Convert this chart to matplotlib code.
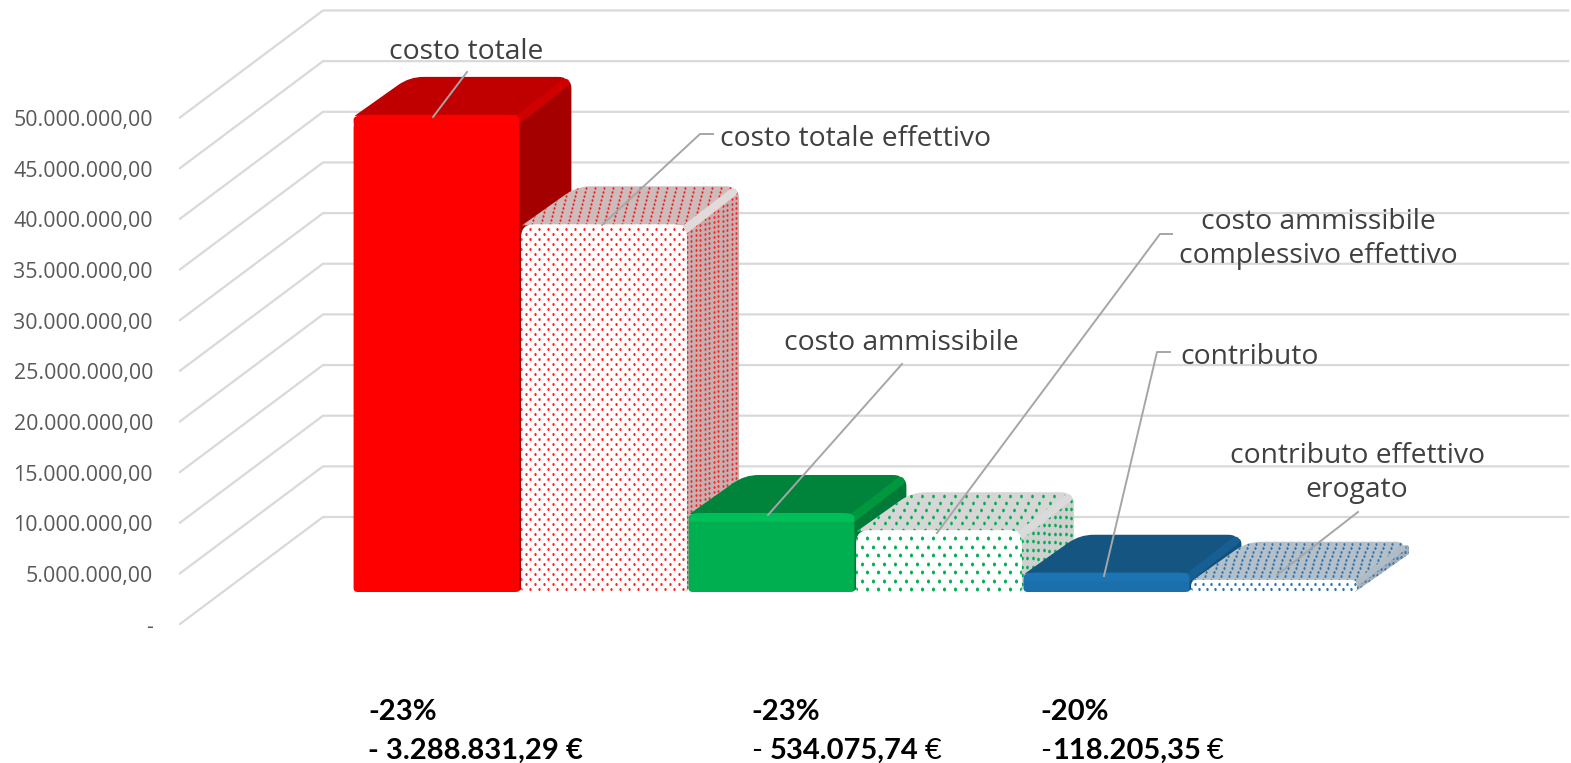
import numpy as np
import matplotlib
matplotlib.use("Agg")
import matplotlib.pyplot as plt
from matplotlib.patches import PathPatch
from matplotlib.path import Path
from matplotlib.transforms import Affine2D, IdentityTransform

W, H = 1571, 763

# dati
categories = ["costo totale", "costo totale effettivo", "costo ammissibile",
              "costo ammissibile\ncomplessivo effettivo", "contributo",
              "contributo effettivo\nerogato"]
values = [47100000, 36300000, 7800000, 6100000, 1900000, 1200000]
ticks = [0, 5000000, 10000000, 15000000, 20000000, 25000000,
         30000000, 35000000, 40000000, 45000000, 50000000]
tick_labels = ["-", "5.000.000,00", "10.000.000,00", "15.000.000,00", "20.000.000,00",
               "25.000.000,00", "30.000.000,00", "35.000.000,00", "40.000.000,00",
               "45.000.000,00", "50.000.000,00"]
delta_pct = ["-23%", "-23%", "-20%"]
delta_eur = ["- 3.288.831,29 €", "- 534.075,74 €", "-118.205,35 €"]
eur_thin = [False, True, True]    # segno e simbolo non in grassetto

# colori: fronte, sopra, lato, smusso, striscia
pieni = {"red": ("#FF0000", "#C00000", "#A50000", "#D00000", "#FF0000"),
         "green": ("#00B050", "#00843C", "#007A37", "#00983F", "#00BE58"),
         "blue": ("#1B6FAB", "#145582", "#12507C", "#175E92", "#1C74B3")}
# pattern: puntino, sopra, lato, smusso, passo x, passo y, diametro
puntini = {"red": ("#FF2020", "#CDBBBB", "#C4B0B0", "#E2DADA", 9.0, 5.0, 3.0),
           "green": ("#00B050", "#D6D6D6", "#D0D0D0", "#DADADA", 11.0, 8.5, 4.0),
           "blue": ("#2E75B6", "#B4C0C9", "#A4B0B9", "#B0BCC5", 8.0, 5.0, 3.2)}
serie_col = ["red", "red", "green", "green", "blue", "blue"]

SX = 167.5
SY = 50.65 / 5000000
X0, Y0 = 436.5, 592
DX, DY = 52, 38     # profondita barre
I = IdentityTransform()


def rounded(pts, radii):
    verts, codes = [], []
    n = len(pts)
    pts = [np.array(p, dtype=float) for p in pts]
    for k in range(n):
        p, a, b = pts[k], pts[k - 1], pts[(k + 1) % n]
        r = radii[k]
        r1 = min(r, np.linalg.norm(a - p) / 2)
        r2 = min(r, np.linalg.norm(b - p) / 2)
        start = p + (a - p) / max(np.linalg.norm(a - p), 1e-6) * r1
        end = p + (b - p) / max(np.linalg.norm(b - p), 1e-6) * r2
        verts += [start, p, end]
        codes += [Path.MOVETO if k == 0 else Path.LINETO, Path.CURVE3, Path.CURVE3]
    verts.append(verts[0])
    codes.append(Path.CLOSEPOLY)
    return Path(verts, codes)


def add_face(ax, path, color, z):
    patch = PathPatch(path, fc=color, ec="none", transform=I, zorder=z)
    ax.add_patch(patch)
    return patch


def dots(ax, patch, xs, ys, color, d, z):
    marker = Path.unit_circle().transformed(Affine2D().scale(0.75, 1.0))
    pts = ax.scatter(xs, ys, s=(d * 0.72) ** 2, c=color, marker=marker, linewidths=0,
                     transform=I, zorder=z)
    pts.set_clip_path(patch)


def draw_bar(ax, i, v, col, pattern, z):
    xl, yb = ax.transData.transform((i - 0.495, 0))
    xr, yt = ax.transData.transform((i + 0.495, v))
    h = yt - yb
    front = [(xl, yb), (xl, yt), (xr, yt), (xr, yb)]
    top = [(xl + 1, yt - 1), (xl + DX + 4, yt + DY), (xr + DX, yt + DY), (xr, yt - 1)]
    side = [(xr - 2, yb), (xr - 2, yt), (xr + DX, yt + DY), (xr + DX, yb + DY)]
    edge = ([xr - 3, xr + DX - 6], [yt - 6, yt + DY - 6])
    band = min(6, h / 3)
    r_f = min(13, h / 2)
    strip = [(xl, yt - min(9, h / 2)), (xl, yt), (xr, yt), (xr, yt - min(9, h / 2))]

    if not pattern:
        c_front, c_top, c_side, c_bev, c_strip = pieni[col]
        add_face(ax, rounded(side, [0, 0, 12, 0]), c_side, z)
        add_face(ax, rounded(top, [0, 14, 14, 0]), c_top, z + 0.1)
        ax.plot(*edge, color=c_bev, lw=band, solid_capstyle="round", transform=I, zorder=z + 0.2)
        add_face(ax, rounded(front, [4, r_f, r_f, 4]), c_front, z + 0.3)
        add_face(ax, rounded(strip, [0, r_f, r_f, 0]), c_strip, z + 0.4)
        return

    c_dot, c_top, c_side, c_bev, sp, sp_y, d = puntini[col]
    p_side = add_face(ax, rounded(side, [0, 0, 12, 0]), c_side, z)
    rows = np.arange(yb, yt + DY + sp, sp_y)
    xx, yy = [], []
    for k, dep in enumerate(np.arange(0, DX + sp, sp * 0.5)):
        yy.append(rows + dep * DY / DX + (k % 2) * sp_y / 2)
        xx.append(np.full(len(rows), xr + dep))
    dots(ax, p_side, np.concatenate(xx), np.concatenate(yy), c_dot, d * 0.9, z + 0.05)

    p_top = add_face(ax, rounded(top, [0, 14, 14, 0]), c_top, z + 0.1)
    xx, yy = [], []
    cols = np.arange(xl - DX, xr + DX, sp)
    for k, dep in enumerate(np.arange(0, DY + sp_y, sp_y * 0.8)):
        xx.append(cols + dep * DX / DY + (k % 2) * sp / 2)
        yy.append(np.full(len(cols), yt + dep))
    dots(ax, p_top, np.concatenate(xx), np.concatenate(yy), c_dot, d * 0.9, z + 0.15)
    ax.plot(*edge, color=c_bev, lw=band, solid_capstyle="round", transform=I, zorder=z + 0.2)

    p_front = add_face(ax, rounded(front, [4, r_f, r_f, 4]), "white", z + 0.3)
    xx, yy = [], []
    cols = np.arange(xl, xr + sp, sp)
    for k, y in enumerate(np.arange(yb + 3, yt, sp_y)):
        xx.append(cols + (k % 2) * sp / 2)
        yy.append(np.full(len(cols), y))
    dots(ax, p_front, np.concatenate(xx), np.concatenate(yy), c_dot, d, z + 0.35)


fig = plt.figure(figsize=(W / 100, H / 100), dpi=100)
ax = fig.add_axes([0, 0, 1, 1])
ax.set_xlim((0 - X0) / SX, (W - X0) / SX)
ax.set_ylim((Y0 - H) / SY, Y0 / SY)
ax.axis("off")

# pareti: griglia obliqua + orizzontale
front_off = (Y0 - 624) / SY
back_off = (Y0 - 517) / SY
x_f, x_b, x_e = (180 - X0) / SX, (323 - X0) / SX, (1568 - X0) / SX
for v, lab in zip(ticks, tick_labels):
    ax.plot([x_f, x_b, x_e], [v + front_off, v + back_off, v + back_off],
            color="#D9D9D9", lw=1.6, zorder=1)
    ax.text(x_f - 27 / SX, v + front_off - 3 / SY, lab, ha="right", va="center", fontsize=15.4,
            family="Open Sans", color="#595959")

for i, (v, col) in enumerate(zip(values, serie_col)):
    draw_bar(ax, i, v, col, i % 2 == 1, 10 + i)

# etichette in pixel, y dall'alto
px = Affine2D().scale(1, -1).translate(0, H)
leaders = [[(433, 117), (467, 72)],
           [(602, 225), (700, 134), (713, 134)],
           [(768, 515), (902, 364)],
           [(937, 533), (1160, 234), (1172, 234)],
           [(1104, 576), (1157, 352), (1170, 352)],
           [(1277, 575), (1358, 512)]]
label_pos = [(466, 52, "center"), (720, 139, "left"), (901, 343, "center"),
             (1318, 239, "center"), (1180, 357, "left"), (1357, 473, "center")]
for lab, pts, (x, y, ha) in zip(categories, leaders, label_pos):
    xs, ys = zip(*pts)
    ax.plot(xs, ys, color="#A6A6A6", lw=1.4, transform=px, zorder=30)
    ax.text(x, y, lab, ha=ha, va="center", fontsize=20.3, family="Open Sans", color="#404040",
            transform=px, linespacing=1.3, zorder=31)


def bold_text(x, y, s, weight="bold"):
    t = ax.text(x, y, s, ha="left", va="baseline", fontsize=21, family="Lato", weight=weight,
                color="black", transform=px)
    return x + t.get_window_extent(fig.canvas.get_renderer()).width


for x, pct, eur, thin in zip([368, 751, 1040], delta_pct, delta_eur, eur_thin):
    bold_text(x, 720, pct)
    if thin:
        sign = "- " if eur.startswith("- ") else "-"
        body = eur[len(sign):-1]
        nx = bold_text(x, 759, sign.strip(), "normal") + (8 if sign == "- " else 1)
        nx = bold_text(nx, 759, body.rstrip())
        bold_text(nx + 6, 759, "€", "normal")
    else:
        bold_text(x, 759, eur)

fig.savefig("out.png", dpi=100, facecolor="white")
